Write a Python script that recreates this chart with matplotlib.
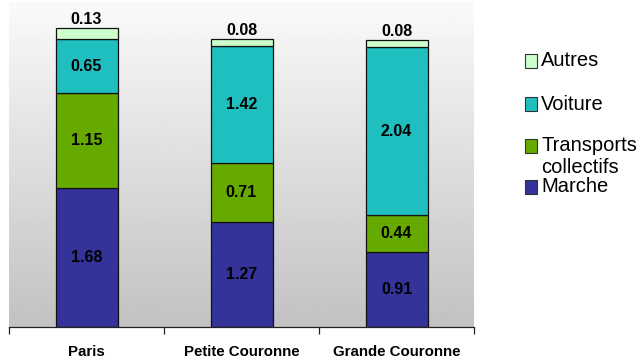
import matplotlib.pyplot as plt
import matplotlib.patches as patches
import numpy as np

plt.rcParams['font.family'] = ['Liberation Sans', 'DejaVu Sans']

# Daily trips per person by mode and zone
zones = ['Paris', 'Petite Couronne', 'Grande Couronne']
modes = ['Marche', 'Transports\ncollectifs', 'Voiture', 'Autres']
marche = [1.68, 1.27, 0.91]
transports = [1.15, 0.71, 0.44]
voiture = [0.65, 1.42, 2.04]
autres = [0.13, 0.08, 0.08]
series = [marche, transports, voiture, autres]
colors = ['#333399', '#66aa00', '#1fbfbf', '#ccffcc']

fig = plt.figure(figsize=(6.42, 3.58), dpi=100)
ax = fig.add_axes([9 / 642, 31 / 358, 465 / 642, 325 / 358])
ax.set_xlim(-0.5, 2.5)
ax.set_ylim(0, 3.93)

# gradient background in the plot area
grad = np.linspace(0.98, 0.76, 256).reshape(-1, 1)
ax.imshow(grad, cmap='gray', vmin=0, vmax=1, aspect='auto',
          extent=[0, 1, 0, 1], transform=ax.transAxes, zorder=0)

x = np.arange(len(zones))
bottom = np.zeros(len(zones))
for k, (vals, col) in enumerate(zip(series, colors)):
    vals = np.array(vals)
    ax.bar(x, vals, width=0.4, bottom=bottom, color=col,
           edgecolor='#111111', linewidth=0.9, zorder=2)
    for xi, b, v in zip(x, bottom, vals):
        if k == len(series) - 1:
            ax.annotate(f'{v:.2f}', (xi, b + v), xytext=(0, 1),
                        textcoords='offset points', ha='center', va='bottom',
                        fontsize=11.5, fontweight='bold', zorder=3)
        else:
            ax.text(xi, b + v / 2, f'{v:.2f}', ha='center', va='center',
                    fontsize=11.5, fontweight='bold', zorder=3)
    bottom = bottom + vals

for s in ['left', 'right', 'top']:
    ax.spines[s].set_visible(False)
ax.spines['bottom'].set_color('#222222')
ax.spines['bottom'].set_linewidth(0.9)
ax.set_yticks([])
ax.set_xticks([-0.5, 0.5, 1.5, 2.5])
ax.set_xticklabels([])
ax.tick_params(axis='x', length=5, width=0.9, color='#222222')
for xi, name in zip(x, zones):
    ax.text(xi, -0.3, name, ha='center', va='center', fontsize=10.8,
            fontweight='bold', transform=ax.transData, clip_on=False)

# legend, drawn top to bottom
legend_items = list(zip(modes, colors))[::-1]
legend_y = [61, 104, 146, 187]
for (name, col), yc in zip(legend_items, legend_y):
    fy = 1 - yc / 358
    fig.patches.append(patches.Rectangle((525 / 642, fy - 7 / 358), 12 / 642, 14 / 358,
                                         transform=fig.transFigure, facecolor=col,
                                         edgecolor='#333333', linewidth=0.8))
    if '\n' in name:
        fig.text(541 / 642, fy + 10 / 358, name, ha='left', va='top',
                 fontsize=14.5, linespacing=1.2)
    else:
        fig.text(541 / 642, fy, name, ha='left', va='center', fontsize=14.5)

fig.savefig('out.png', dpi=100, facecolor='white')
